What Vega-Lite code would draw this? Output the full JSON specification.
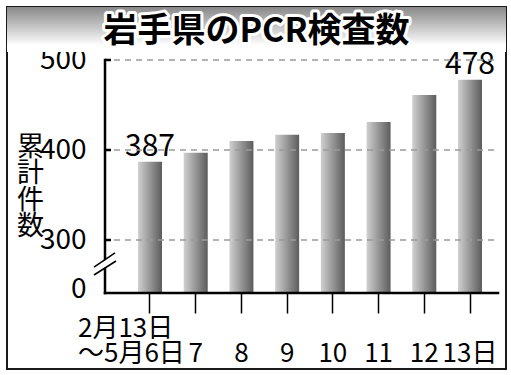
{
  "$schema": "https://vega.github.io/schema/vega-lite/v6.json",
  "width": 499,
  "height": 362,
  "autosize": {"type": "none"},
  "padding": {"left": 7, "top": 7, "right": 5, "bottom": 6},
  "background": "white",
  "config": {
    "view": {"stroke": "#1a1a1a", "strokeWidth": 2},
    "font": "Noto Sans CJK JP"
  },
  "resolve": {"scale": {"x": "independent"}},
  "data": {
    "values": [
      {"date": "2月13日〜5月6日", "count": 387},
      {"date": "7", "count": 397},
      {"date": "8", "count": 410},
      {"date": "9", "count": 417},
      {"date": "10", "count": 419},
      {"date": "11", "count": 431},
      {"date": "12", "count": 461},
      {"date": "13日", "count": 478}
    ]
  },
  "layer": [
    {
      "layer": [
        {
          "mark": {
            "type": "bar",
            "color": {
              "gradient": "linear", "x1": 0, "x2": 1, "y1": 0, "y2": 0,
              "stops": [{"offset": 0, "color": "#d0d0d0"}, {"offset": 1, "color": "#5c5c5c"}]
            }
          },
          "encoding": {
            "x": {
              "field": "date", "type": "nominal", "sort": null,
              "scale": {"range": [120.14, 485.86], "paddingInner": 0.475, "paddingOuter": 0.2375},
              "axis": {
                "title": null, "orient": "bottom", "offset": -76, "domain": false,
                "tickSize": 20, "tickWidth": 1.5, "tickColor": "black",
                "labelAngle": 0, "labelFontSize": 26, "labelColor": "black",
                "labelBaseline": "bottom", "labelLineHeight": 25,
                "labelAlign": {"condition": {"test": "datum.value == '2月13日〜5月6日'", "value": "left"}, "value": "center"},
                "labelOffset": {"condition": {"test": "datum.value == '2月13日〜5月6日'", "value": -72}, "value": 0},
                "labelPadding": {"condition": {"test": "datum.value == '2月13日〜5月6日'", "value": 28}, "value": 53},
                "labelExpr": "datum.value == '2月13日〜5月6日' ? ['2月13日', '〜5月6日'] : datum.value"
              }
            },
            "y": {
              "field": "count", "type": "quantitative",
              "scale": {"domain": [156.67, 558.89], "nice": false, "zero": false},
              "axis": {
                "offset": -85, "domain": false, "ticks": false, "grid": false,
                "values": [241.11, 300, 400, 500],
                "labelExpr": "datum.value < 250 ? '0' : datum.label",
                "labelOffset": {"condition": {"test": "datum.value < 250", "value": -4}, "value": 0},
                "labelFontSize": 28, "labelColor": "black", "labelPadding": 6,
                "title": ["累", "計", "件", "数"], "titleAngle": 0,
                "titleX": -62, "titleY": 140, "titleAlign": "center", "titleBaseline": "middle",
                "titleFontSize": 27, "titleFontWeight": "normal", "titleLineHeight": 26.5,
                "titleColor": "black"
              }
            },
            "y2": {"datum": 241.11}
          }
        },
        {
          "transform": [{"filter": "datum.count == 387 || datum.count == 478"}],
          "mark": {"type": "text", "fontSize": 30, "color": "black", "baseline": "alphabetic", "dy": -6},
          "encoding": {
            "x": {"field": "date", "type": "nominal", "sort": null},
            "y": {"field": "count", "type": "quantitative", "scale": {"domain": [156.67, 558.89], "nice": false, "zero": false}},
            "text": {"field": "count", "type": "quantitative"}
          }
        }
      ]
    },
    {
      "layer": [
        {
          "data": {"values": [{"v": 300}, {"v": 400}, {"v": 500}]},
          "mark": {"type": "rule", "color": "#9a9a9a", "strokeWidth": 1.5, "strokeDash": [6, 5]},
          "encoding": {
            "x": {"datum": 0.2144, "type": "quantitative", "scale": {"domain": [0, 1], "nice": false, "zero": false}, "axis": null},
            "x2": {"datum": 0.984},
            "y": {"field": "v", "type": "quantitative", "scale": {"domain": [156.67, 558.89], "nice": false, "zero": false}}
          }
        },
        {
          "data": {"values": [{"v": 300}, {"v": 400}, {"v": 500}]},
          "mark": {"type": "rule", "color": "black", "strokeWidth": 2.5},
          "encoding": {
            "x": {"datum": 0.1964, "type": "quantitative", "scale": {"domain": [0, 1], "nice": false, "zero": false}, "axis": null},
            "x2": {"datum": 0.2084},
            "y": {"field": "v", "type": "quantitative", "scale": {"domain": [156.67, 558.89], "nice": false, "zero": false}}
          }
        },
        {
          "data": {"values": [{}]},
          "mark": {"type": "rule", "color": "black", "strokeWidth": 2.5, "strokeCap": "square"},
          "encoding": {
            "x": {"datum": 0.1964, "type": "quantitative", "scale": {"domain": [0, 1], "nice": false, "zero": false}, "axis": null},
            "y": {"datum": 500, "type": "quantitative", "scale": {"domain": [156.67, 558.89], "nice": false, "zero": false}},
            "y2": {"datum": 241.11}
          }
        },
        {
          "data": {"values": [{}]},
          "mark": {"type": "rule", "color": "black", "strokeWidth": 2.5, "strokeCap": "square"},
          "encoding": {
            "x": {"datum": 0.1964, "type": "quantitative", "scale": {"domain": [0, 1], "nice": false, "zero": false}, "axis": null},
            "x2": {"datum": 0.984},
            "y": {"datum": 241.11, "type": "quantitative", "scale": {"domain": [156.67, 558.89], "nice": false, "zero": false}}
          }
        },
        {
          "data": {"values": [{}]},
          "mark": {"type": "rule", "color": "white", "strokeWidth": 6},
          "encoding": {
            "x": {"datum": 0.1723, "type": "quantitative", "scale": {"domain": [0, 1], "nice": false, "zero": false}, "axis": null},
            "x2": {"datum": 0.2204},
            "y": {"datum": 264.44, "type": "quantitative", "scale": {"domain": [156.67, 558.89], "nice": false, "zero": false}},
            "y2": {"datum": 282.22}
          }
        },
        {
          "data": {"values": [{}]},
          "mark": {"type": "rule", "color": "black", "strokeWidth": 1.5},
          "encoding": {
            "x": {"datum": 0.1743, "type": "quantitative", "scale": {"domain": [0, 1], "nice": false, "zero": false}, "axis": null},
            "x2": {"datum": 0.2164},
            "y": {"datum": 270, "type": "quantitative", "scale": {"domain": [156.67, 558.89], "nice": false, "zero": false}},
            "y2": {"datum": 285.56}
          }
        },
        {
          "data": {"values": [{}]},
          "mark": {"type": "rule", "color": "black", "strokeWidth": 1.5},
          "encoding": {
            "x": {"datum": 0.1743, "type": "quantitative", "scale": {"domain": [0, 1], "nice": false, "zero": false}, "axis": null},
            "x2": {"datum": 0.2184},
            "y": {"datum": 261.11, "type": "quantitative", "scale": {"domain": [156.67, 558.89], "nice": false, "zero": false}},
            "y2": {"datum": 276.67}
          }
        },
        {
          "data": {"values": [{}]},
          "mark": {
            "type": "rect",
            "color": {
              "gradient": "linear", "x1": 0, "x2": 0, "y1": 0, "y2": 1,
              "stops": [{"offset": 0, "color": "#888888"}, {"offset": 0.85, "color": "#ffffff"}]
            }
          },
          "encoding": {
            "x": {"datum": 0, "type": "quantitative", "scale": {"domain": [0, 1], "nice": false, "zero": false}, "axis": null},
            "x2": {"datum": 1},
            "y": {"datum": 558.89, "type": "quantitative", "scale": {"domain": [156.67, 558.89], "nice": false, "zero": false}},
            "y2": {"datum": 508.89}
          }
        },
        {
          "data": {"values": [{}]},
          "mark": {"type": "text", "text": "岩手県のPCR検査数", "fontSize": 34, "fontWeight": "bold", "fill": "white", "stroke": "white", "strokeWidth": 6, "strokeJoin": "round", "baseline": "middle", "align": "center"},
          "encoding": {
            "x": {"datum": 0.5, "type": "quantitative", "scale": {"domain": [0, 1], "nice": false, "zero": false}, "axis": null},
            "y": {"datum": 531.1, "type": "quantitative", "scale": {"domain": [156.67, 558.89], "nice": false, "zero": false}}
          }
        },
        {
          "data": {"values": [{}]},
          "mark": {"type": "text", "text": "岩手県のPCR検査数", "fontSize": 34, "fontWeight": "bold", "fill": "black", "baseline": "middle", "align": "center"},
          "encoding": {
            "x": {"datum": 0.5, "type": "quantitative", "scale": {"domain": [0, 1], "nice": false, "zero": false}, "axis": null},
            "y": {"datum": 531.1, "type": "quantitative", "scale": {"domain": [156.67, 558.89], "nice": false, "zero": false}}
          }
        }
      ]
    }
  ]
}
